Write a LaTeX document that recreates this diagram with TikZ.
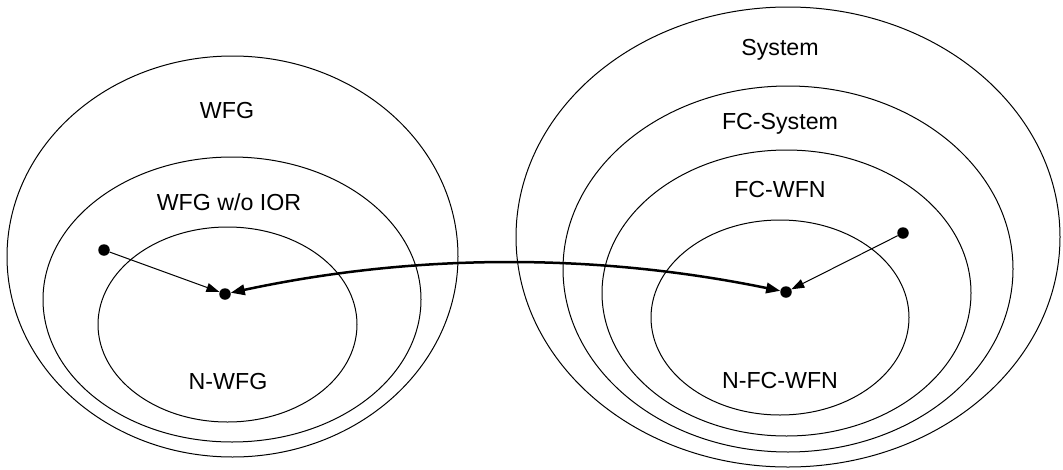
\documentclass[tikz,border=0pt]{standalone}
\usepackage{fontspec}
\setmainfont{Liberation Sans}
\usetikzlibrary{shapes.geometric,arrows.meta}

\tikzset{
  region/.style={draw=black, line width=1pt, ellipse, inner sep=0pt},
  setlabel/.style={anchor=base, inner sep=0pt, font=\fontsize{23.2}{26}\selectfont},
  dot/.style={circle, fill=black, inner sep=0pt, minimum size=11.5pt},
  member/.style={draw=black, line width=1pt, -{Triangle[length=13pt, width=9pt]}},
  corresp/.style={draw=black, line width=2.5pt, {Triangle[length=14pt, width=10.5pt]}-{Triangle[length=14pt, width=10.5pt]}}
}

\begin{document}
\begin{tikzpicture}[x=1pt, y=-1pt]
  \useasboundingbox (0,0) rectangle (1063,469);

  % left family of nested sets
  \node[region, minimum width=451pt, minimum height=401pt] (wfg)    at (232.5,256.5) {};
  \node[region, minimum width=378pt, minimum height=285pt] (wfgior) at (232,299.5) {};
  \node[region, minimum width=259pt, minimum height=195pt] (nwfg)   at (227.5,324.5) {};

  \node[setlabel] (lwfg)    at (227,118) {WFG};
  \node[setlabel] (lwfgior) at (229,210) {WFG w/o IOR};
  \node[setlabel] (lnwfg)   at (228,389) {N-WFG};

  % right family of nested sets
  \node[region, minimum width=544pt, minimum height=460pt] (sys)   at (788,237) {};
  \node[region, minimum width=450pt, minimum height=366pt] (fcsys) at (788,269) {};
  \node[region, minimum width=369pt, minimum height=286pt] (fcwfn) at (786.5,293) {};
  \node[region, minimum width=258pt, minimum height=195pt] (nfc)   at (780,317.5) {};

  \node[setlabel] (lsys)   at (780,55)  {System};
  \node[setlabel] (lfcsys) at (780,129) {FC-System};
  \node[setlabel] (lfcwfn) at (780,197) {FC-WFN};
  \node[setlabel] (lnfc)   at (780,388) {N-FC-WFN};

  % elements
  \node[dot] (srcL) at (104,250) {};
  \node[dot] (tgtL) at (225,294) {};
  \node[dot] (srcR) at (903,233) {};
  \node[dot] (tgtR) at (786,292) {};

  % mappings
  \draw[member] (srcL) -- (tgtL);
  \draw[member] (srcR) -- (tgtR);
  \draw[corresp] (tgtL) .. controls (416,253) and (596,253) .. (tgtR);
\end{tikzpicture}
\end{document}
